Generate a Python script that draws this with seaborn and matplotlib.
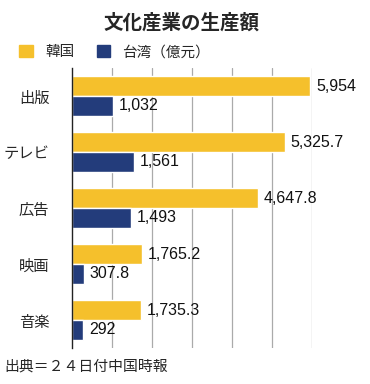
import pandas as pd
import matplotlib.pyplot as plt
import seaborn as sns
from matplotlib.patches import Patch

categories = ['出版', 'テレビ', '広告', '映画', '音楽']
korea = [5954, 5325.7, 4647.8, 1765.2, 1735.3]
taiwan = [1032, 1561, 1493, 307.8, 292]
korea_labels = ['5,954', '5,325.7', '4,647.8', '1,765.2', '1,735.3']
taiwan_labels = ['1,032', '1,561', '1,493', '307.8', '292']
series = ['韓国', '台湾']
colors = ['#F5C02C', '#233C7B']

df = pd.DataFrame({
    'category': categories * 2,
    'value': korea + taiwan,
    'series': [series[0]] * len(categories) + [series[1]] * len(categories),
})

sns.set_theme(style='white')
plt.rcParams['font.family'] = ['Noto Sans CJK JP', 'DejaVu Sans']

fig = plt.figure(figsize=(3.7, 3.84), dpi=100)
ax = fig.add_axes([71.5 / 370, 36 / 384, 240.8 / 370, 280 / 384])

sns.barplot(data=df, x='value', y='category', hue='series', order=categories,
            hue_order=series, palette=colors, width=0.7, saturation=1,
            orient='h', legend=False, ax=ax)

# value labels in a Helvetica-like face
for container, labels in zip(ax.containers, [korea_labels, taiwan_labels]):
    ax.bar_label(container, labels=labels, padding=4, fontsize=11.5,
                 color='#111111', family=['Liberation Sans', 'DejaVu Sans'])

ax.set_xlim(0, 6000)
ax.set_xticks([1000, 2000, 3000, 4000, 5000, 6000])
ax.set_xticklabels([])
ax.xaxis.grid(True, color='#aaaaaa', linewidth=0.9)
ax.set_axisbelow(True)
ax.tick_params(axis='x', length=0)
ax.tick_params(axis='y', length=0, pad=16, labelsize=11)
ax.set_xlabel('')
ax.set_ylabel('')
for side in ['top', 'right', 'bottom']:
    ax.spines[side].set_visible(False)
ax.spines['left'].set_color('#222222')
ax.spines['left'].set_linewidth(1)

fig.text(0.49, 0.94, '文化産業の生産額', ha='center', va='center',
         fontsize=14, fontweight='bold')

handles = [Patch(color=c) for c in colors]
fig.legend(handles, ['韓国', '台湾（億元）'], loc='center left',
           bbox_to_anchor=(0.017, 0.864), ncol=2, frameon=False, fontsize=10.5,
           handlelength=0.9, handleheight=0.9, handletextpad=0.85, columnspacing=1.55)

fig.text(0.013, 0.046, '出典＝２４日付中国時報', ha='left', va='center', fontsize=10.7)

plt.savefig('out.png', dpi=100)
